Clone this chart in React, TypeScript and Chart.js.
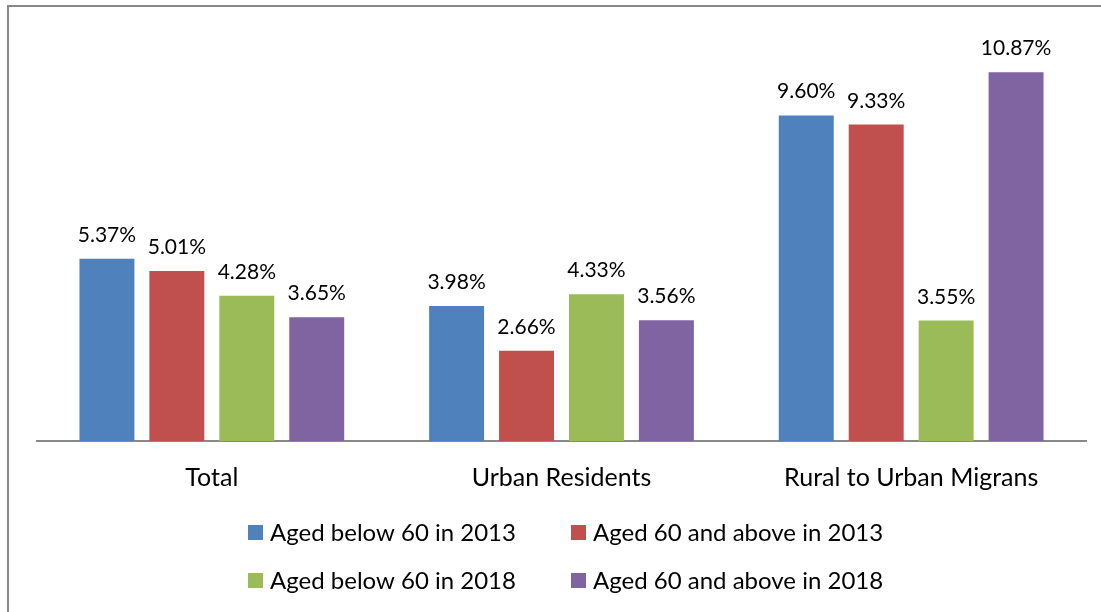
import React, { useEffect, useRef } from "react";
import { Chart, registerables } from "chart.js";

Chart.register(...registerables);

const categories = ["Total", "Urban Residents", "Rural to Urban Migrans"];
const seriesLabels = [
  "Aged below 60 in 2013",
  "Aged 60 and above in 2013",
  "Aged below 60 in 2018",
  "Aged 60 and above in 2018",
];
const below60in2013 = [5.37, 3.98, 9.6];
const above60in2013 = [5.01, 2.66, 9.33];
const below60in2018 = [4.28, 4.33, 3.55];
const above60in2018 = [3.65, 3.56, 10.87];
const seriesColors = ["#4F81BD", "#C0504D", "#9BBB59", "#8064A2"];
const yMin = 0;
const yMax = 12;

const FONT = "Lato, 'Open Sans', sans-serif";

const valueLabelPlugin = {
  id: "valueLabels",
  afterDatasetsDraw(chart: any) {
    const ctx = chart.ctx;
    ctx.save();
    ctx.font = `21px ${FONT}`;
    ctx.fillStyle = "#000";
    ctx.textAlign = "center";
    ctx.textBaseline = "alphabetic";
    chart.data.datasets.forEach((ds: any, di: number) => {
      const meta = chart.getDatasetMeta(di);
      meta.data.forEach((el: any, i: number) => {
        const v = ds.data[i] as number;
        ctx.fillText(v.toFixed(2) + "%", el.x, el.y - 17);
      });
    });
    ctx.restore();
  },
};

const gridLegendPlugin = {
  id: "gridLegend",
  afterDraw(chart: any) {
    const ctx = chart.ctx;
    const colX = [248, 571];
    const rowBaseline = [541, 589];
    ctx.save();
    ctx.font = `24px ${FONT}`;
    ctx.textBaseline = "alphabetic";
    ctx.textAlign = "left";
    chart.data.datasets.forEach((ds: any, i: number) => {
      const x = colX[i % 2];
      const y = rowBaseline[Math.floor(i / 2)];
      ctx.fillStyle = ds.backgroundColor;
      ctx.fillRect(x, y - 16, 15, 15);
      ctx.fillStyle = "#000";
      ctx.fillText(ds.label, x + 22, y);
    });
    ctx.restore();
  },
};

export default function App() {
  const ref = useRef<HTMLCanvasElement | null>(null);
  useEffect(() => {
    if (!ref.current) return;
    const series = [below60in2013, above60in2013, below60in2018, above60in2018];
    const chart = new Chart(ref.current, {
      type: "bar",
      data: {
        labels: categories,
        datasets: series.map((d, i) => ({
          label: seriesLabels[i],
          data: d,
          backgroundColor: seriesColors[i],
          borderWidth: 0,
          categoryPercentage: 0.8,
          barPercentage: 0.786,
        })),
      },
      options: {
        responsive: false,
        animation: false,
        layout: { padding: { left: 37, right: 15, top: 34, bottom: 0 } },
        plugins: {
          legend: { display: false },
          tooltip: { enabled: false },
        },
        scales: {
          x: {
            grid: { display: false, drawTicks: false },
            border: { display: true, color: "#888", width: 2 },
            ticks: {
              color: "#000",
              font: { family: FONT, size: 25 },
              padding: 22,
            },
            afterFit: (scale: any) => {
              scale.height = 171;
            },
          },
          y: {
            display: false,
            min: yMin,
            max: yMax,
          },
        },
      },
      plugins: [valueLabelPlugin, gridLegendPlugin],
    });
    return () => chart.destroy();
  }, []);

  return (
    <div style={{ position: "absolute", left: 0, top: 0, width: 1101, height: 612, background: "#fff" }}>
      <div
        style={{
          position: "absolute",
          left: 7,
          top: 5,
          width: 1094,
          height: 607,
          borderLeft: "2px solid #888",
          borderTop: "2px solid #888",
          boxSizing: "border-box",
        }}
      />
      <canvas ref={ref} width={1101} height={612} style={{ position: "absolute", left: 0, top: 0 }} />
    </div>
  );
}
